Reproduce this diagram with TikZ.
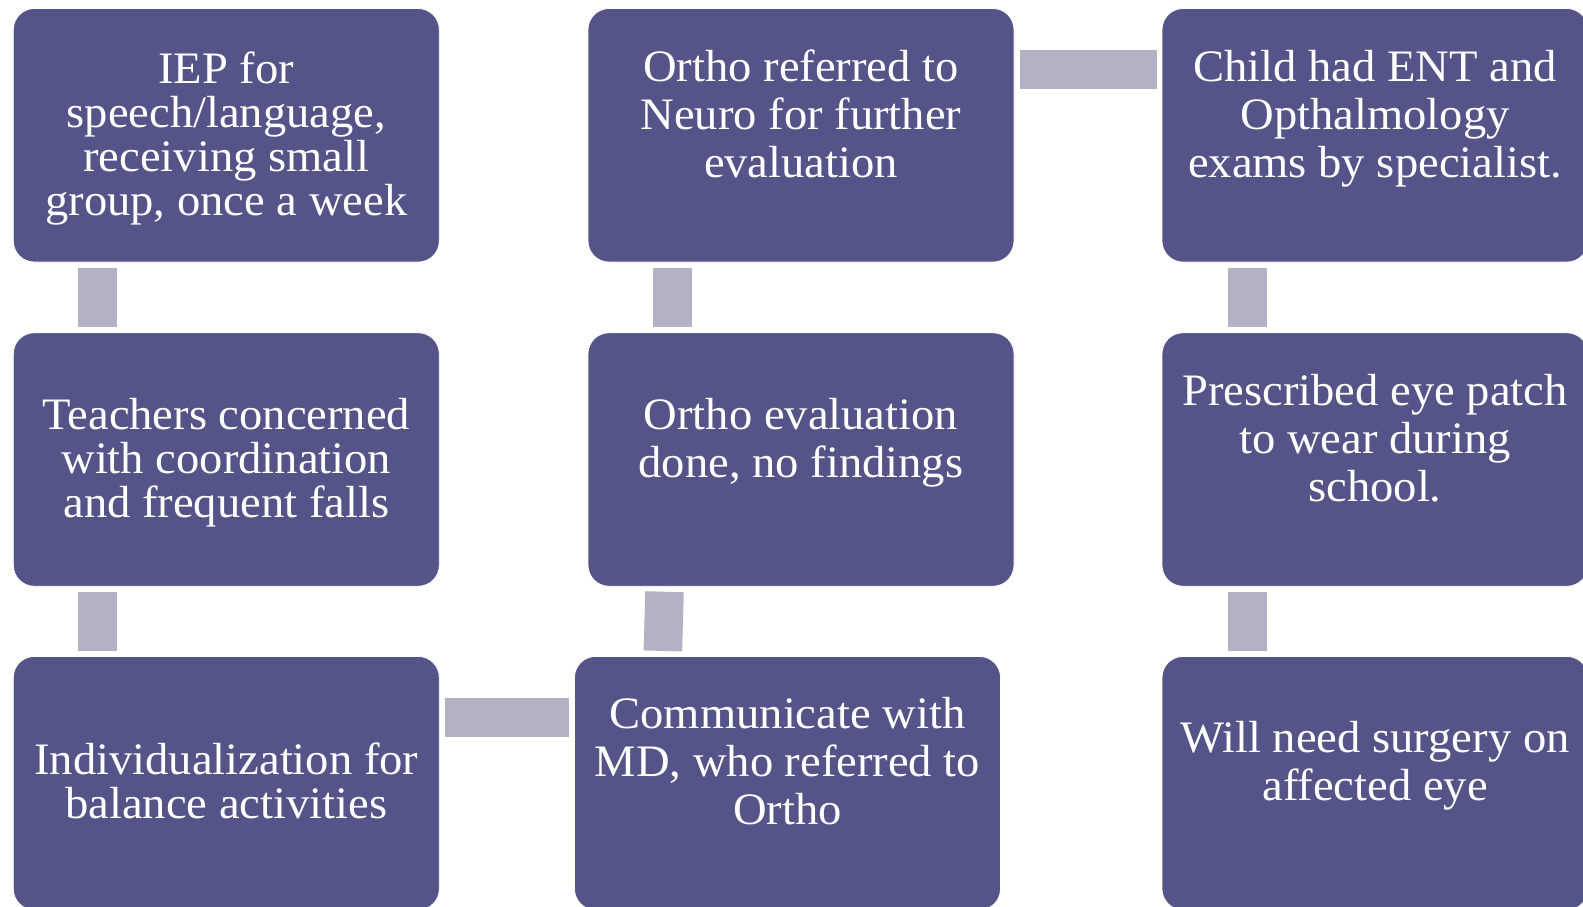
\documentclass[tikz,border=0pt]{standalone}
\usepackage{fontspec}
\setmainfont{Liberation Serif}[FakeStretch=1.035]
\definecolor{boxfill}{HTML}{545488}
\definecolor{connfill}{HTML}{B2B2C4}
\newcommand\tstrut{\rule{0pt}{0.75em}}
\newcommand\bstrut{\rule[-0.25em]{0pt}{0.25em}}
\begin{document}
\begin{tikzpicture}[x=1pt,y=-1pt,
  stepbox/.style={draw=white, line width=0.8pt, fill=boxfill, rounded corners=21pt,
    minimum width=426pt, minimum height=253.5pt, inner sep=0pt, outer sep=0pt},
  txt/.style={text=white, align=center, inner sep=0pt},
  colA/.style={txt, font=\fontsize{45}{44}\selectfont, yshift=-2.5pt},
  colB/.style={txt, font=\fontsize{45}{48}\selectfont, yshift=17.5pt},
  conn/.style={draw=connfill, line width=38.5pt, shorten <=5.5pt, shorten >=5.5pt}]
\useasboundingbox (0,0) rectangle (1583,906);
\fill[white] (0,0) rectangle (1583,906);
\clip (0,0) rectangle (1583,906);

\node[stepbox] (b1) at (226.3,135.3) {};
\node[stepbox] (b2) at (226.3,459.5) {};
\node[stepbox] (b3) at (226.3,783.2) {};
\node[stepbox] (b4) at (801,135.3) {};
\node[stepbox] (b5) at (801,459.5) {};
\node[stepbox] (b6) at (787.5,783.2) {};
\node[stepbox] (b7) at (1375,135.3) {};
\node[stepbox] (b8) at (1375,459.5) {};
\node[stepbox] (b9) at (1375,783.2) {};

\node[colA] (t1) at (b1.center) {\tstrut IEP for\\speech/language,\\receiving small\\group, once a week\bstrut};
\node[colA] (t2) at (b2.center) {\tstrut Teachers concerned\\with coordination\\and frequent falls\bstrut};
\node[colA] (t3) at (b3.center) {\tstrut Individualization for\\balance activities\bstrut};
\node[colB] (t4) at (b4.center) {\tstrut Ortho referred to\\Neuro for further\\evaluation\bstrut};
\node[colB] (t5) at (b5.center) {\tstrut Ortho evaluation\\done, no findings\bstrut};
\node[colB] (t6) at (b6.center) {\tstrut Communicate with\\MD, who referred to\\Ortho\bstrut};
\node[colB] (t7) at (b7.center) {\tstrut Child had ENT and\\Opthalmology\\exams by specialist.\bstrut};
\node[colB] (t8) at (b8.center) {\tstrut Prescribed eye patch\\to wear during\\school.\bstrut};
\node[colB] (t9) at (b9.center) {\tstrut Will need surgery on\\affected eye\bstrut};

\draw[conn] ([xshift=-128.7pt]b1.south) -- ([xshift=-128.7pt]b2.north);
\draw[conn] ([xshift=-128.7pt]b2.south) -- ([xshift=-128.7pt]b3.north);
\draw[conn] ([yshift=65.8pt]b3.east) -- ([yshift=65.8pt]b6.west);
\draw[conn] ([xshift=-124.8pt]b6.north) -- ([xshift=-136.3pt]b5.south);
\draw[conn] ([xshift=-128.7pt]b5.north) -- ([xshift=-128.7pt]b4.south);
\draw[conn] ([yshift=65.9pt]b4.east) -- ([yshift=65.9pt]b7.west);
\draw[conn] ([xshift=-127.5pt]b7.south) -- ([xshift=-127.5pt]b8.north);
\draw[conn] ([xshift=-127.5pt]b8.south) -- ([xshift=-127.5pt]b9.north);
\end{tikzpicture}
\end{document}
